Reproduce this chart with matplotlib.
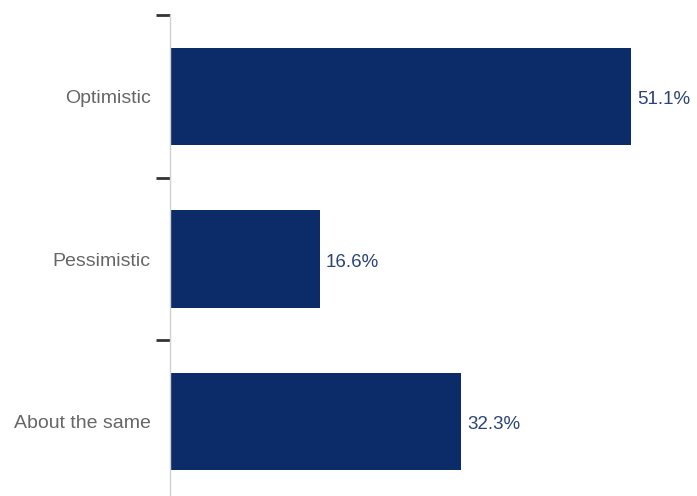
import matplotlib.pyplot as plt
import numpy as np

categories = ['Optimistic', 'Pessimistic', 'About the same']
values = [51.1, 16.6, 32.3]
labels = ['51.1%', '16.6%', '32.3%']

plt.rcParams['font.family'] = ['Liberation Sans', 'DejaVu Sans']

fig = plt.figure(figsize=(6.97, 4.96), dpi=100)
ax = fig.add_axes([170 / 697, -7 / 496, 527 / 697, 488 / 496])

y = np.arange(len(categories))
ax.barh(y, values, height=0.6, color='#0b2c68')

for yi, v, lab in zip(y, values, labels):
    ax.text(v + 0.7, yi + 0.02, lab, va='center', ha='left', fontsize=13.5, color='#2a4478')

ax.set_xlim(0, 58.4)
ax.set_ylim(2.5, -0.5)

ax.set_yticks(y)
ax.set_yticklabels(categories, fontsize=14, color='#666666')
ax.set_yticks([-0.5, 0.5, 1.5, 2.5], minor=True)
ax.tick_params(axis='y', which='major', length=0, pad=14)
ax.tick_params(axis='y', which='minor', length=10, width=2, color='#333333')
ax.set_xticks([])

for s in ['top', 'right', 'bottom']:
    ax.spines[s].set_visible(False)
ax.spines['left'].set_color('#d0d0d0')
ax.spines['left'].set_linewidth(1)

fig.savefig('out.png', dpi=100)
